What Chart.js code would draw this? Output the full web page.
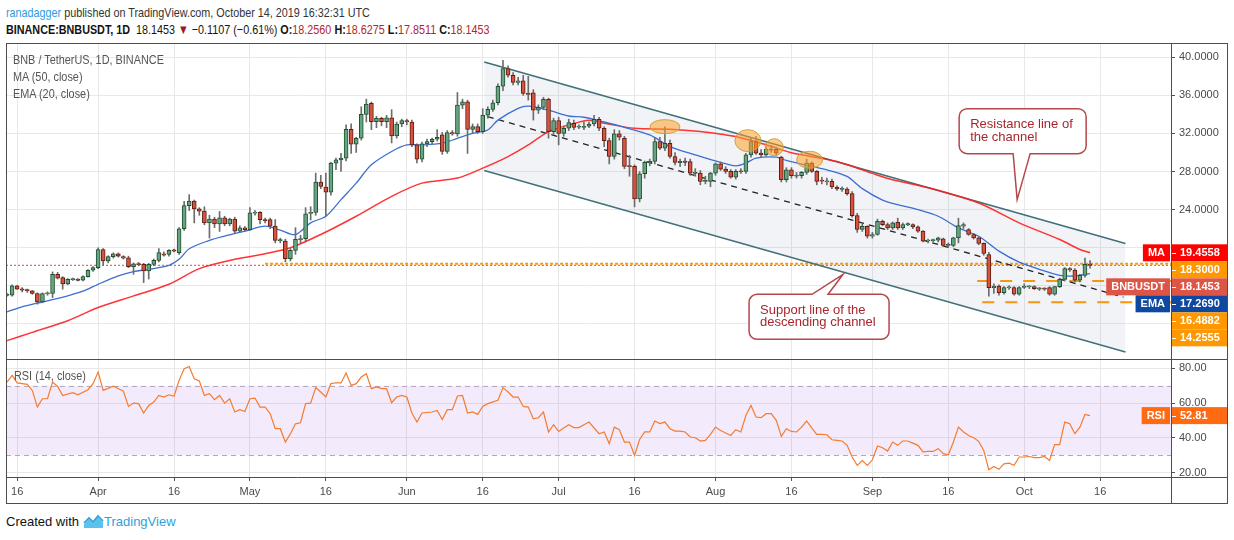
<!DOCTYPE html>
<html>
<head>
<meta charset="utf-8">
<title>BNB / TetherUS, 1D</title>
<script src="https://cdn.jsdelivr.net/npm/chart.js@4.4.0/dist/chart.umd.min.js"></script>
<style>
  body { margin: 0; width: 1234px; height: 540px; background: #fff; position: relative; overflow: hidden;
         font-family: "Liberation Sans", Arial, sans-serif; }
  .txt { position: absolute; white-space: nowrap; z-index: 3; transform-origin: 0 0; }
  .head { font-size: 13px; transform: scaleX(0.83); }
  .legend { font-size: 12.5px; color: #555; transform: scaleX(0.87); }
  .red { color: #b3262a; }
  .line { position: absolute; background: #4d4d4d; z-index: 4; }
  #priceBox { position: absolute; left: 6px; top: 43px; width: 1221px; height: 316px; }
  #rsiBox { position: absolute; left: 6px; top: 360px; width: 1221px; height: 143px; }
  #frame { position: absolute; left: 6px; top: 43px; width: 1222px; height: 461px; box-sizing: border-box;
           border: 1px solid #4d4d4d; z-index: 4; pointer-events: none; }
</style>
</head>
<body>
<div class="txt head" style="left:6px;top:5px;color:#333"><span style="color:#2d9ce0">ranadagger</span> published on TradingView.com, October 14, 2019 16:32:31 UTC</div>
<div class="txt head" style="left:6px;top:22px;color:#131313"><b>BINANCE:BNBUSDT, 1D</b>&nbsp; 18.1453 <span style="color:#9e1a1a">&#9660;</span> &minus;0.1107 (&minus;0.61%) <b>O:</b><span class="red">18.2560</span> <b>H:</b><span class="red">18.6275</span> <b>L:</b><span class="red">17.8511</span> <b>C:</b><span class="red">18.1453</span></div>

<div id="priceBox"><canvas id="price"></canvas></div>
<div id="rsiBox"><canvas id="rsi"></canvas></div>
<div id="frame"></div>
<div class="line" style="left:6px;top:359px;width:1221px;height:1px"></div>
<div class="line" style="left:1171px;top:477px;width:56px;height:1px"></div>
<div class="line" style="left:1171px;top:477px;width:1px;height:26px"></div>

<div class="txt legend" style="left:13px;top:53px">BNB / TetherUS, 1D, BINANCE</div>
<div class="txt legend" style="left:13px;top:70px">MA (50, close)</div>
<div class="txt legend" style="left:13px;top:87px">EMA (20, close)</div>
<div class="txt legend" style="left:14px;top:369px">RSI (14, close)</div>

<div class="txt" style="left:6px;top:514px;font-size:13px;color:#111">Created with</div>
<svg style="position:absolute;left:83px;top:514px" width="21" height="15" viewBox="0 0 21 15">
  <path d="M1 14 L1 10 L6 5 L10 9 L15 3 L20 8 L20 14 Z" fill="#5cc1ec"/>
  <path d="M1 9 L6 4 L10 8 L15 2 L20 7" fill="none" stroke="#2a9fd8" stroke-width="1.6"/>
</svg>
<div class="txt" style="left:104px;top:514px;font-size:13px;color:#2e9fdc">TradingView</div>

<script>
// day 0 = 2019-03-14, one candle per day
const tickDays = [2, 18, 33, 48, 63, 79, 94, 109, 124, 140, 155, 171, 186, 201, 216];
const tickLabels = ["16", "Apr", "16", "May", "16", "Jun", "16", "Jul", "16", "Aug", "16", "Sep", "16", "Oct", "16"];

const opens = [
  15.00, 15.00, 15.98, 15.65, 15.55, 15.46, 15.18, 14.30, 15.18, 15.18,
  17.20, 16.85, 16.20, 16.68, 16.68, 16.57, 16.96, 17.62, 17.90, 19.80,
  18.60, 19.05, 19.36, 19.05, 18.94, 18.00, 18.30, 18.25, 17.55, 18.25,
  18.66, 19.36, 19.29, 19.75, 19.47, 21.98, 24.42, 24.90, 24.07, 23.83,
  22.60, 23.00, 22.50, 23.13, 22.50, 23.00, 21.73, 22.08, 21.90, 23.65,
  23.70, 22.95, 22.95, 22.26, 20.76, 20.70, 18.84, 19.71, 20.86, 20.93,
  23.60, 23.70, 26.89, 26.36, 25.84, 28.88, 29.22, 29.40, 32.43, 30.86,
  31.49, 34.00, 35.15, 33.23, 33.58, 33.23, 33.65, 31.73, 32.99, 33.34,
  33.20, 30.79, 29.29, 30.90, 31.14, 31.39, 31.84, 30.10, 32.08, 31.94,
  34.98, 35.33, 32.43, 32.71, 32.19, 33.93, 34.52, 35.22, 36.96, 38.81,
  38.11, 37.35, 37.52, 36.20, 36.27, 34.45, 34.73, 35.57, 32.19, 33.34,
  32.00, 32.54, 33.06, 32.71, 32.64, 32.75, 32.99, 33.48, 32.54, 31.25,
  29.58, 31.95, 31.49, 28.60, 28.53, 25.11, 27.76, 28.95, 29.05, 31.15,
  30.45, 30.97, 29.58, 28.95, 29.05, 29.05, 27.83, 27.83, 26.96, 26.96,
  27.83, 28.81, 28.25, 28.01, 27.41, 28.01, 28.00, 29.75, 31.15, 29.93,
  29.75, 30.34, 30.34, 29.51, 27.14, 28.18, 27.55, 27.55, 27.90, 28.88,
  28.01, 27.07, 26.96, 26.96, 26.37, 26.16, 26.16, 25.67, 23.37, 21.91,
  22.25, 21.20, 21.38, 22.77, 22.42, 22.07, 22.67, 22.07, 22.42, 22.42,
  22.18, 21.73, 20.68, 20.78, 20.78, 20.92, 20.23, 20.23, 21.03, 22.25,
  21.90, 21.38, 21.03, 20.44, 19.28, 15.80, 15.97, 15.28, 15.80, 15.80,
  15.10, 15.85, 15.90, 15.90, 15.69, 15.72, 15.80, 15.10, 15.90, 16.67,
  17.79, 17.65, 16.57, 17.09, 18.256
];
const highs = [
  15.20, 16.10, 16.05, 15.80, 15.65, 15.50, 15.25, 15.25, 15.35, 17.45,
  17.40, 16.95, 16.75, 16.80, 16.75, 17.05, 17.70, 18.00, 19.99, 19.90,
  19.15, 19.45, 19.45, 19.15, 19.10, 18.40, 18.45, 18.35, 18.35, 18.80,
  19.90, 19.55, 19.80, 19.85, 22.10, 24.87, 25.57, 25.00, 24.20, 24.30,
  23.40, 23.20, 23.80, 23.30, 23.10, 23.20, 22.30, 22.20, 24.20, 23.90,
  23.80, 23.10, 23.10, 22.95, 21.00, 20.90, 19.90, 22.10, 21.30, 24.20,
  24.30, 27.83, 27.60, 27.83, 29.00, 29.40, 29.90, 32.90, 33.00, 31.60,
  34.80, 35.60, 35.30, 33.80, 33.70, 33.90, 34.50, 33.20, 33.50, 33.50,
  33.40, 30.90, 31.10, 31.40, 31.50, 32.40, 32.10, 32.30, 32.30, 36.30,
  35.60, 35.50, 33.00, 33.00, 34.60, 34.80, 35.50, 37.20, 39.68, 39.10,
  38.40, 37.90, 38.10, 38.00, 36.60, 35.00, 35.80, 35.70, 33.60, 33.70,
  32.80, 33.50, 33.40, 32.90, 33.20, 33.20, 33.90, 33.70, 32.70, 31.50,
  32.40, 32.30, 31.70, 29.70, 28.70, 28.00, 29.10, 29.30, 31.50, 31.60,
  32.70, 31.30, 30.00, 29.30, 29.40, 29.30, 28.30, 28.10, 27.50, 27.90,
  28.90, 29.00, 28.50, 28.20, 28.20, 28.30, 29.90, 31.60, 31.70, 30.30,
  30.60, 30.70, 30.50, 29.60, 28.40, 28.40, 27.90, 28.00, 29.30, 29.00,
  28.10, 27.40, 27.30, 27.20, 26.50, 26.40, 26.30, 25.90, 23.60, 22.50,
  22.30, 21.60, 23.00, 22.90, 22.60, 22.70, 23.10, 22.60, 22.60, 22.50,
  22.30, 21.80, 20.90, 20.90, 21.10, 21.00, 20.50, 21.10, 23.10, 22.60,
  22.00, 21.50, 21.10, 20.50, 19.50, 16.20, 16.10, 15.90, 16.00, 15.90,
  15.90, 16.20, 16.00, 16.00, 15.80, 15.80, 15.90, 15.95, 16.80, 17.90,
  17.90, 17.80, 17.20, 18.90, 18.6275
];
const lows = [
  14.90, 14.90, 15.60, 15.35, 15.30, 15.10, 14.06, 14.20, 15.00, 14.76,
  16.70, 15.63, 16.10, 16.55, 16.50, 16.50, 16.90, 17.50, 17.80, 18.14,
  18.40, 18.90, 19.00, 18.80, 17.90, 17.20, 18.10, 16.33, 16.70, 18.10,
  18.50, 19.10, 19.10, 19.55, 19.30, 21.80, 23.90, 22.60, 23.40, 22.40,
  21.00, 22.10, 21.70, 22.30, 22.30, 21.50, 21.60, 21.70, 21.80, 23.40,
  22.50, 22.60, 22.00, 20.50, 20.50, 18.50, 18.60, 19.30, 20.50, 20.60,
  22.90, 23.40, 26.20, 23.30, 25.50, 28.20, 28.00, 29.10, 29.90, 30.00,
  31.30, 33.20, 32.40, 32.60, 32.80, 32.60, 31.00, 31.50, 32.70, 32.90,
  30.60, 28.90, 29.00, 30.60, 30.90, 31.20, 29.80, 29.90, 31.80, 31.70,
  34.60, 29.90, 32.00, 32.00, 32.00, 33.60, 34.30, 35.00, 36.50, 37.90,
  37.10, 37.10, 36.00, 35.50, 33.40, 34.10, 34.50, 31.50, 31.90, 30.80,
  31.70, 32.30, 32.40, 32.50, 32.40, 32.60, 32.80, 32.30, 30.60, 28.80,
  29.30, 31.30, 28.30, 27.50, 24.28, 24.80, 27.30, 28.60, 28.80, 30.30,
  30.20, 29.40, 28.70, 28.50, 28.60, 27.60, 27.50, 26.60, 26.70, 26.40,
  27.60, 28.10, 27.80, 27.30, 27.20, 27.80, 27.80, 29.50, 29.80, 29.50,
  29.60, 30.00, 29.70, 26.90, 26.90, 27.30, 27.30, 27.30, 27.70, 27.90,
  26.60, 26.70, 26.60, 26.20, 26.00, 25.90, 25.50, 23.20, 21.60, 21.70,
  21.00, 21.00, 21.30, 22.30, 21.90, 21.90, 21.90, 21.90, 22.30, 22.00,
  21.60, 20.60, 20.50, 20.60, 20.60, 20.10, 20.10, 20.10, 20.50, 22.00,
  21.30, 20.90, 20.30, 19.20, 14.90, 15.20, 15.00, 15.10, 15.60, 15.00,
  15.00, 15.70, 15.70, 15.60, 15.50, 15.50, 15.00, 15.00, 15.80, 16.50,
  17.50, 16.40, 16.40, 16.90, 17.8511
];
const closes = [
  15.10, 15.98, 15.63, 15.55, 15.50, 15.18, 14.30, 15.18, 15.20, 17.20,
  16.78, 16.20, 16.68, 16.70, 16.57, 16.96, 17.62, 17.90, 19.80, 18.60,
  19.05, 19.36, 19.10, 18.90, 18.00, 18.30, 18.25, 17.55, 18.25, 18.66,
  19.47, 19.22, 19.71, 19.65, 21.98, 24.42, 24.90, 24.07, 23.83, 22.60,
  23.00, 22.50, 23.13, 22.50, 23.00, 21.73, 22.08, 21.90, 23.65, 23.70,
  22.95, 22.85, 22.26, 20.76, 20.80, 18.84, 19.71, 20.86, 20.93, 23.54,
  23.70, 26.89, 26.43, 25.84, 28.88, 29.22, 29.40, 32.43, 30.86, 31.49,
  34.00, 35.08, 33.23, 33.58, 33.23, 33.65, 31.73, 32.99, 33.34, 33.20,
  30.79, 29.29, 30.90, 31.14, 31.39, 31.60, 30.10, 32.08, 31.94, 34.98,
  35.33, 32.43, 32.71, 32.19, 33.93, 34.52, 35.22, 36.96, 38.81, 38.11,
  37.35, 37.52, 36.20, 36.10, 34.45, 34.73, 35.57, 32.19, 33.34, 32.00,
  32.54, 33.13, 32.64, 32.71, 32.75, 32.99, 33.48, 32.54, 31.25, 29.58,
  31.95, 31.60, 28.53, 28.53, 25.11, 27.76, 28.95, 29.05, 31.15, 30.45,
  30.97, 29.58, 28.95, 29.05, 29.00, 27.83, 27.90, 26.96, 27.05, 27.83,
  28.81, 28.25, 28.01, 27.41, 28.01, 28.00, 29.75, 31.15, 29.93, 29.75,
  30.34, 30.27, 29.93, 27.14, 28.18, 27.55, 27.60, 27.90, 28.88, 28.01,
  26.96, 27.00, 26.96, 26.37, 26.16, 26.20, 25.67, 23.37, 21.91, 22.25,
  21.20, 21.38, 22.77, 22.42, 22.07, 22.60, 22.07, 22.42, 22.50, 22.18,
  21.73, 20.68, 20.78, 20.80, 21.03, 20.23, 20.33, 21.03, 22.32, 22.42,
  21.38, 21.03, 20.44, 19.39, 15.80, 15.97, 15.28, 15.80, 15.85, 15.10,
  15.80, 15.90, 15.95, 15.69, 15.72, 15.65, 15.10, 15.90, 16.67, 17.79,
  17.65, 16.57, 17.09, 18.24, 18.1453
];

// MA (50) and EMA (20) at sample days
const maDays = [0, 5, 12, 18, 25, 32, 38, 45, 51, 56, 62, 69, 76, 82, 89, 94, 99, 103, 107, 111,
  115, 118, 124, 131, 137, 142, 144, 150, 155, 157, 164, 169, 171, 175, 182, 192, 200, 208, 212, 214];
const maValues = [10.23, 11.10, 12.32, 13.71, 14.93, 16.15, 17.79, 18.77, 19.36, 19.98, 21.38, 23.30, 25.39, 26.78, 27.31, 28.35, 29.57, 30.79, 32.19, 32.88,
  33.38, 33.06, 32.54, 32.44, 32.19, 31.84, 31.67, 30.80, 29.96, 29.75, 29.05, 28.18, 27.80, 27.13, 26.30, 24.69, 22.60, 20.85, 19.81, 19.46];
const emaDays = [0, 3, 6, 8, 12, 15, 18, 22, 25, 28, 32, 34, 36, 40, 43, 47, 51, 54, 57, 60,
  63, 66, 69, 72, 76, 79, 82, 86, 89, 92, 95, 97, 101, 103, 107, 111, 114, 118, 122, 127,
  131, 136, 141, 144, 146, 148, 152, 154, 159, 162, 166, 169, 173, 176, 180, 184, 188, 192, 196, 200,
  204, 208, 211, 214];
const emaValues = [13.26, 13.78, 14.17, 14.41, 14.93, 15.42, 16.15, 17.03, 17.48, 17.72, 18.14, 18.77, 19.89, 20.76, 21.21, 21.73, 22.26, 21.84, 21.38, 22.60,
  23.30, 25.04, 26.78, 28.70, 30.10, 30.79, 30.79, 30.97, 31.49, 32.00, 32.36, 33.40, 34.63, 34.87, 34.45, 33.83, 33.70, 33.20, 32.64, 31.84,
  30.62, 29.75, 28.95, 28.60, 28.88, 29.40, 29.51, 29.16, 28.53, 28.18, 27.48, 26.20, 25.00, 24.52, 23.99, 23.30, 22.07, 21.20, 19.63, 18.48,
  17.72, 17.09, 17.02, 17.27];

// RSI (14)
const rsiDays = [0, 1, 2, 4, 5, 6, 7, 8, 9, 10, 11, 13, 14, 16, 17, 18, 19, 21, 23, 24,
  25, 26, 27, 28, 29, 30, 31, 32, 33, 34, 35, 36, 37, 38, 39, 40, 41, 42, 43, 44,
  45, 46, 47, 48, 49, 50, 51, 52, 53, 54, 55, 56, 57, 58, 59, 60, 61, 62, 63, 64,
  65, 66, 67, 68, 69, 70, 71, 72, 73, 74, 75, 76, 77, 78, 79, 80, 81, 82, 84, 85,
  86, 87, 88, 89, 90, 91, 92, 93, 94, 95, 97, 98, 99, 100, 101, 102, 103, 104, 105, 106,
  107, 108, 109, 110, 111, 112, 113, 114, 115, 117, 118, 119, 120, 121, 122, 123, 124, 125, 126, 127,
  128, 129, 130, 131, 132, 133, 134, 135, 136, 137, 138, 139, 140, 141, 142, 143, 144, 145, 146, 147,
  148, 149, 150, 151, 152, 153, 154, 155, 156, 157, 158, 159, 160, 161, 162, 163, 164, 165, 166, 167,
  168, 169, 170, 171, 172, 173, 174, 175, 176, 177, 178, 179, 180, 181, 182, 183, 184, 185, 186, 187,
  188, 189, 190, 191, 192, 193, 194, 195, 196, 197, 198, 199, 200, 201, 202, 203, 204, 205, 206, 207,
  208, 209, 210, 211, 212, 213, 214];
const rsiValues = [72.1, 76.0, 71.6, 70.8, 67.3, 57.7, 62.5, 62.5, 72.1, 69.6, 64.4, 66.0, 64.8, 67.7, 71.2, 77.9, 67.3, 69.8, 66.8, 58.1,
  60.0, 59.7, 54.3, 58.7, 60.6, 64.4, 63.5, 64.8, 63.9, 73.1, 79.8, 81.1, 74.0, 72.7, 64.4, 65.4, 62.0, 64.4, 60.0, 62.5,
  54.9, 56.2, 55.2, 62.5, 62.9, 57.7, 57.7, 53.9, 45.3, 45.3, 37.6, 42.4, 48.1, 48.7, 59.7, 60.0, 68.9, 66.4, 63.5, 71.2,
  71.7, 71.6, 77.3, 70.2, 71.2, 75.0, 76.9, 68.3, 69.3, 68.3, 68.3, 60.2, 63.5, 64.4, 63.5, 54.3, 49.1, 54.3, 54.9, 55.8,
  50.6, 56.2, 56.2, 64.1, 64.4, 54.3, 54.9, 53.5, 58.1, 59.7, 61.6, 68.9, 66.4, 63.5, 63.5, 58.1, 57.7, 51.0, 51.6, 54.9,
  43.4, 47.6, 43.7, 45.7, 47.6, 45.9, 45.9, 47.6, 49.1, 42.4, 43.4, 36.6, 46.2, 44.7, 37.6, 37.6, 29.9, 39.1, 43.4, 43.4,
  49.7, 48.2, 49.1, 45.3, 43.9, 43.9, 43.4, 40.5, 40.1, 38.2, 38.6, 42.0, 46.2, 44.3, 42.8, 41.4, 44.7, 43.4, 52.9, 58.7,
  52.0, 51.6, 53.9, 53.9, 50.1, 40.9, 45.3, 43.7, 43.4, 46.2, 49.7, 45.7, 42.0, 42.0, 41.8, 38.9, 38.6, 38.2, 35.7, 29.0,
  24.2, 27.0, 24.2, 27.4, 35.3, 34.3, 32.4, 37.6, 35.7, 38.2, 38.2, 37.0, 35.7, 31.9, 32.2, 32.2, 33.8, 30.9, 30.3, 37.6,
  46.2, 43.4, 41.4, 40.1, 38.0, 32.8, 21.7, 23.6, 21.9, 25.1, 25.5, 24.2, 29.0, 29.0, 29.3, 28.6, 28.6, 29.3, 27.0, 36.1,
  36.1, 49.1, 48.2, 42.4, 46.2, 53.5, 52.8];

// descending channel and drawn levels (day, price)
const channelDays = [94.3, 221];
const channelTop = [39.5, 20.44];
const channelBottom = [28.1, 9.03];
const midDays = [95, 220.6];
const midValues = [33.76, 14.8];
const levelValues = [18.3, 16.4882, 14.2555];
const levelStarts = [51, 191.7, 192.7];
const lastClose = 18.1453;

// right-axis value tags
const tagValues = [19.4558, 18.3, 18.1453, 17.269, 16.4882, 14.2555];
const tagNames = ["MA", "", "BNBUSDT", "EMA", "", ""];
const tagColors = ["#ff0000", "#ff9800", "#dc5546", "#0f48a0", "#ff9800", "#ff9800"];
const rsiTagValues = [52.81];
const rsiTagNames = ["RSI"];
const rsiTagColors = ["#ff6a13"];

// highlights and callouts (anchor in day / price)
const highlights = [
  { day: 130, price: 32.71, rx: 15, ry: 7 },
  { day: 146.4, price: 31.24, rx: 13, ry: 11 },
  { day: 151.6, price: 30.55, rx: 9, ry: 8.5 },
  { day: 158.6, price: 29.23, rx: 13, ry: 8.5 }
];
const notes = [
  { day: 199.6, price: 25.04, lines: ["Resistance line of", "the channel"], box: [-58, -91, 127, 45], side: "bottom", base: [-4, 13] },
  { day: 165.2, price: 17.2, lines: ["Support line of the", "descending channel"], box: [-94, 20, 140, 45], side: "top", base: [-31, -15] }
];

const xMin = -0.2, xMax = 230;
const upFill = "#68a482", upLine = "#1f4f33", downFill = "#d6533f", downLine = "#5e1d12";
const gridColor = "#e8e8e8", axisColor = "#4d4d4d";

Chart.defaults.font.family = "'Liberation Sans', Arial, sans-serif";
Chart.defaults.font.size = 11;
Chart.defaults.color = "#4a4a4a";

const isUp = (i) => closes[i] >= opens[i];

const bodies = opens.map((o, i) => {
  let lo = Math.min(o, closes[i]), hi = Math.max(o, closes[i]);
  if (hi - lo < 0.12) {
    const m = (hi + lo) / 2;
    lo = m - 0.06;
    hi = m + 0.06;
  }
  return { x: i, y: [lo, hi] };
});
const wicks = lows.map((l, i) => ({ x: i, y: [l, highs[i]] }));
const points = (xs, ys) => xs.map((d, i) => ({ x: d, y: ys[i] }));

const lineSet = (data, color, width, order, extra) =>
  Object.assign({ type: "line", data, borderColor: color, borderWidth: width, pointRadius: 0, order, fill: false }, extra || {});

const setTicks = (s) => { s.ticks = tickDays.map((v) => ({ value: v })); };

const drawTags = (chart, values, names, colors, digits) => {
  const { ctx, chartArea: a, scales: { y } } = chart;
  const h = 17;
  let prev = -Infinity;
  ctx.save();
  ctx.font = "bold 11px 'Liberation Sans', Arial";
  ctx.textBaseline = "middle";
  values.map((v, i) => ({ v, i, py: y.getPixelForValue(v) }))
    .sort((p, q) => p.py - q.py)
    .forEach((t) => {
      const cy = Math.max(t.py, prev + h);
      prev = cy;
      ctx.fillStyle = colors[t.i];
      ctx.fillRect(a.right + 1, cy - h / 2, 56, h);
      ctx.strokeStyle = "#fff";
      ctx.lineWidth = 1;
      ctx.beginPath();
      ctx.moveTo(a.right + 1, Math.round(cy) + 0.5);
      ctx.lineTo(a.right + 5, Math.round(cy) + 0.5);
      ctx.stroke();
      ctx.fillStyle = "#fff";
      ctx.textAlign = "left";
      ctx.fillText(t.v.toFixed(digits), a.right + 9, cy + 0.5);
      if (names[t.i]) {
        const w = ctx.measureText(names[t.i]).width + 10;
        ctx.fillStyle = colors[t.i];
        ctx.fillRect(a.right - 1 - w, cy - h / 2, w, h);
        ctx.fillStyle = "#fff";
        ctx.textAlign = "center";
        ctx.fillText(names[t.i], a.right - 1 - w / 2, cy + 0.5);
      }
    });
  ctx.restore();
};

const drawCallout = (ctx, tx, ty, n) => {
  const bx = tx + n.box[0], by = ty + n.box[1], w = n.box[2], h = n.box[3], r = 8;
  const b1 = tx + n.base[0], b2 = tx + n.base[1];
  ctx.beginPath();
  ctx.moveTo(bx + r, by);
  if (n.side === "top") { ctx.lineTo(b1, by); ctx.lineTo(tx, ty); ctx.lineTo(b2, by); }
  ctx.lineTo(bx + w - r, by);
  ctx.arcTo(bx + w, by, bx + w, by + r, r);
  ctx.lineTo(bx + w, by + h - r);
  ctx.arcTo(bx + w, by + h, bx + w - r, by + h, r);
  if (n.side === "bottom") { ctx.lineTo(b2, by + h); ctx.lineTo(tx, ty); ctx.lineTo(b1, by + h); }
  ctx.lineTo(bx + r, by + h);
  ctx.arcTo(bx, by + h, bx, by + h - r, r);
  ctx.lineTo(bx, by + r);
  ctx.arcTo(bx, by, bx + r, by, r);
  ctx.closePath();
  ctx.fillStyle = "#fff";
  ctx.fill();
  ctx.strokeStyle = "#b5474b";
  ctx.lineWidth = 1.5;
  ctx.stroke();
  ctx.fillStyle = "#a8262b";
  ctx.font = "13px 'Liberation Sans', Arial";
  ctx.textAlign = "left";
  ctx.textBaseline = "middle";
  n.lines.forEach((t, i) => ctx.fillText(t, bx + 11, by + 16 + i * 12.5));
};

const priceOverlay = {
  id: "priceOverlay",
  afterDatasetsDraw(chart) {
    const { ctx, scales: { x, y } } = chart;
    ctx.save();
    highlights.forEach((e) => {
      ctx.beginPath();
      ctx.ellipse(x.getPixelForValue(e.day), y.getPixelForValue(e.price), e.rx, e.ry, 0, 0, Math.PI * 2);
      ctx.fillStyle = "rgba(255,160,40,0.55)";
      ctx.fill();
      ctx.strokeStyle = "#cfa238";
      ctx.lineWidth = 1;
      ctx.stroke();
    });
    notes.forEach((n) => drawCallout(ctx, x.getPixelForValue(n.day), y.getPixelForValue(n.price), n));
    ctx.restore();
  },
  afterDraw(chart) {
    drawTags(chart, tagValues, tagNames, tagColors, 4);
  }
};

const rsiOverlay = {
  id: "rsiOverlay",
  beforeDatasetsDraw(chart) {
    const { ctx, chartArea: a, scales: { y } } = chart;
    const top = y.getPixelForValue(70), bot = y.getPixelForValue(30);
    ctx.save();
    ctx.fillStyle = "rgba(149,64,230,0.11)";
    ctx.fillRect(a.left, top, a.width, bot - top);
    ctx.setLineDash([5, 4]);
    ctx.strokeStyle = "#b3a6bd";
    ctx.lineWidth = 1;
    [top, bot].forEach((p) => {
      ctx.beginPath();
      ctx.moveTo(a.left, Math.round(p) + 0.5);
      ctx.lineTo(a.right, Math.round(p) + 0.5);
      ctx.stroke();
    });
    ctx.restore();
  },
  afterDraw(chart) {
    drawTags(chart, rsiTagValues, rsiTagNames, rsiTagColors, 2);
  }
};

const priceConfig = {
  type: "bar",
  data: {
    datasets: [
      {
        data: bodies, order: 1, grouped: false, barThickness: 4, borderWidth: 1, borderSkipped: false,
        backgroundColor: (c) => (isUp(c.dataIndex) ? upFill : downFill),
        borderColor: (c) => (isUp(c.dataIndex) ? upLine : downLine)
      },
      { data: wicks, order: 2, grouped: false, barThickness: 1, backgroundColor: "#6d6d6d" },
      lineSet(points(emaDays, emaValues), "#3c6fd1", 1.3, 3, { tension: 0.3 }),
      lineSet(points(maDays, maValues), "rgba(255,30,30,0.9)", 1.5, 4, { tension: 0.3 }),
      lineSet(points(midDays, midValues), "#222", 1.3, 5, { borderDash: [6, 5] }),
      lineSet(points(channelDays, channelTop), "#3f6f78", 1.5, 6, { fill: "+1", backgroundColor: "rgba(128,150,175,0.11)" }),
      lineSet(points(channelDays, channelBottom), "#3f6f78", 1.5, 6),
      lineSet([{ x: levelStarts[0], y: levelValues[0] }, { x: xMax, y: levelValues[0] }], "#ff9800", 2, 7, { borderDash: [3, 2] }),
      lineSet([{ x: xMin, y: lastClose }, { x: xMax, y: lastClose }], "#e04a3a", 1, 8, { borderDash: [2, 2] }),
      lineSet([{ x: levelStarts[1], y: levelValues[1] }, { x: xMax, y: levelValues[1] }], "#ff9800", 2, 7, { borderDash: [12, 11] }),
      lineSet([{ x: levelStarts[2], y: levelValues[2] }, { x: xMax, y: levelValues[2] }], "#ff9800", 2, 7, { borderDash: [12, 11] })
    ]
  },
  options: {
    responsive: true,
    maintainAspectRatio: false,
    animation: false,
    layout: { padding: 0 },
    plugins: { legend: { display: false }, tooltip: { enabled: false } },
    scales: {
      x: {
        type: "linear", min: xMin, max: xMax, offset: false,
        afterBuildTicks: setTicks,
        ticks: { display: false },
        grid: { color: gridColor, drawTicks: false, offset: false },
        border: { display: false },
        afterFit: (s) => { s.height = 0; s.paddingLeft = 0; s.paddingRight = 0; }
      },
      y: {
        position: "right", min: 8.3, max: 41.5,
        ticks: { stepSize: 4, includeBounds: false, padding: 4, callback: (v) => ([12, 16, 20].includes(v) ? "" : v.toFixed(4)) },
        grid: { color: gridColor, tickLength: 4, tickColor: "#555" },
        border: { color: axisColor },
        afterFit: (s) => { s.width = 56; s.paddingTop = 0; s.paddingBottom = 0; }
      }
    }
  },
  plugins: [priceOverlay]
};

const rsiConfig = {
  type: "line",
  data: {
    datasets: [lineSet(points(rsiDays, rsiValues), "#f57c2e", 1.2, 1)]
  },
  options: {
    responsive: true,
    maintainAspectRatio: false,
    animation: false,
    layout: { padding: 0 },
    plugins: { legend: { display: false }, tooltip: { enabled: false } },
    scales: {
      x: {
        type: "linear", min: xMin, max: xMax,
        afterBuildTicks: setTicks,
        ticks: { autoSkip: false, maxRotation: 0, padding: 4, callback: (v, i) => tickLabels[i] },
        grid: { color: gridColor, tickLength: 4, tickColor: "#555" },
        border: { color: axisColor },
        afterFit: (s) => { s.height = 26; s.paddingLeft = 0; s.paddingRight = 0; }
      },
      y: {
        position: "right", min: 17.5, max: 84.8,
        ticks: { stepSize: 20, includeBounds: false, padding: 4, callback: (v) => v.toFixed(2) },
        grid: { color: gridColor, tickLength: 4, tickColor: "#555" },
        border: { color: axisColor },
        afterFit: (s) => { s.width = 56; s.paddingTop = 0; s.paddingBottom = 0; }
      }
    }
  },
  plugins: [rsiOverlay]
};

new Chart(document.getElementById("price").getContext("2d"), priceConfig);
new Chart(document.getElementById("rsi").getContext("2d"), rsiConfig);
</script>
</body>
</html>
